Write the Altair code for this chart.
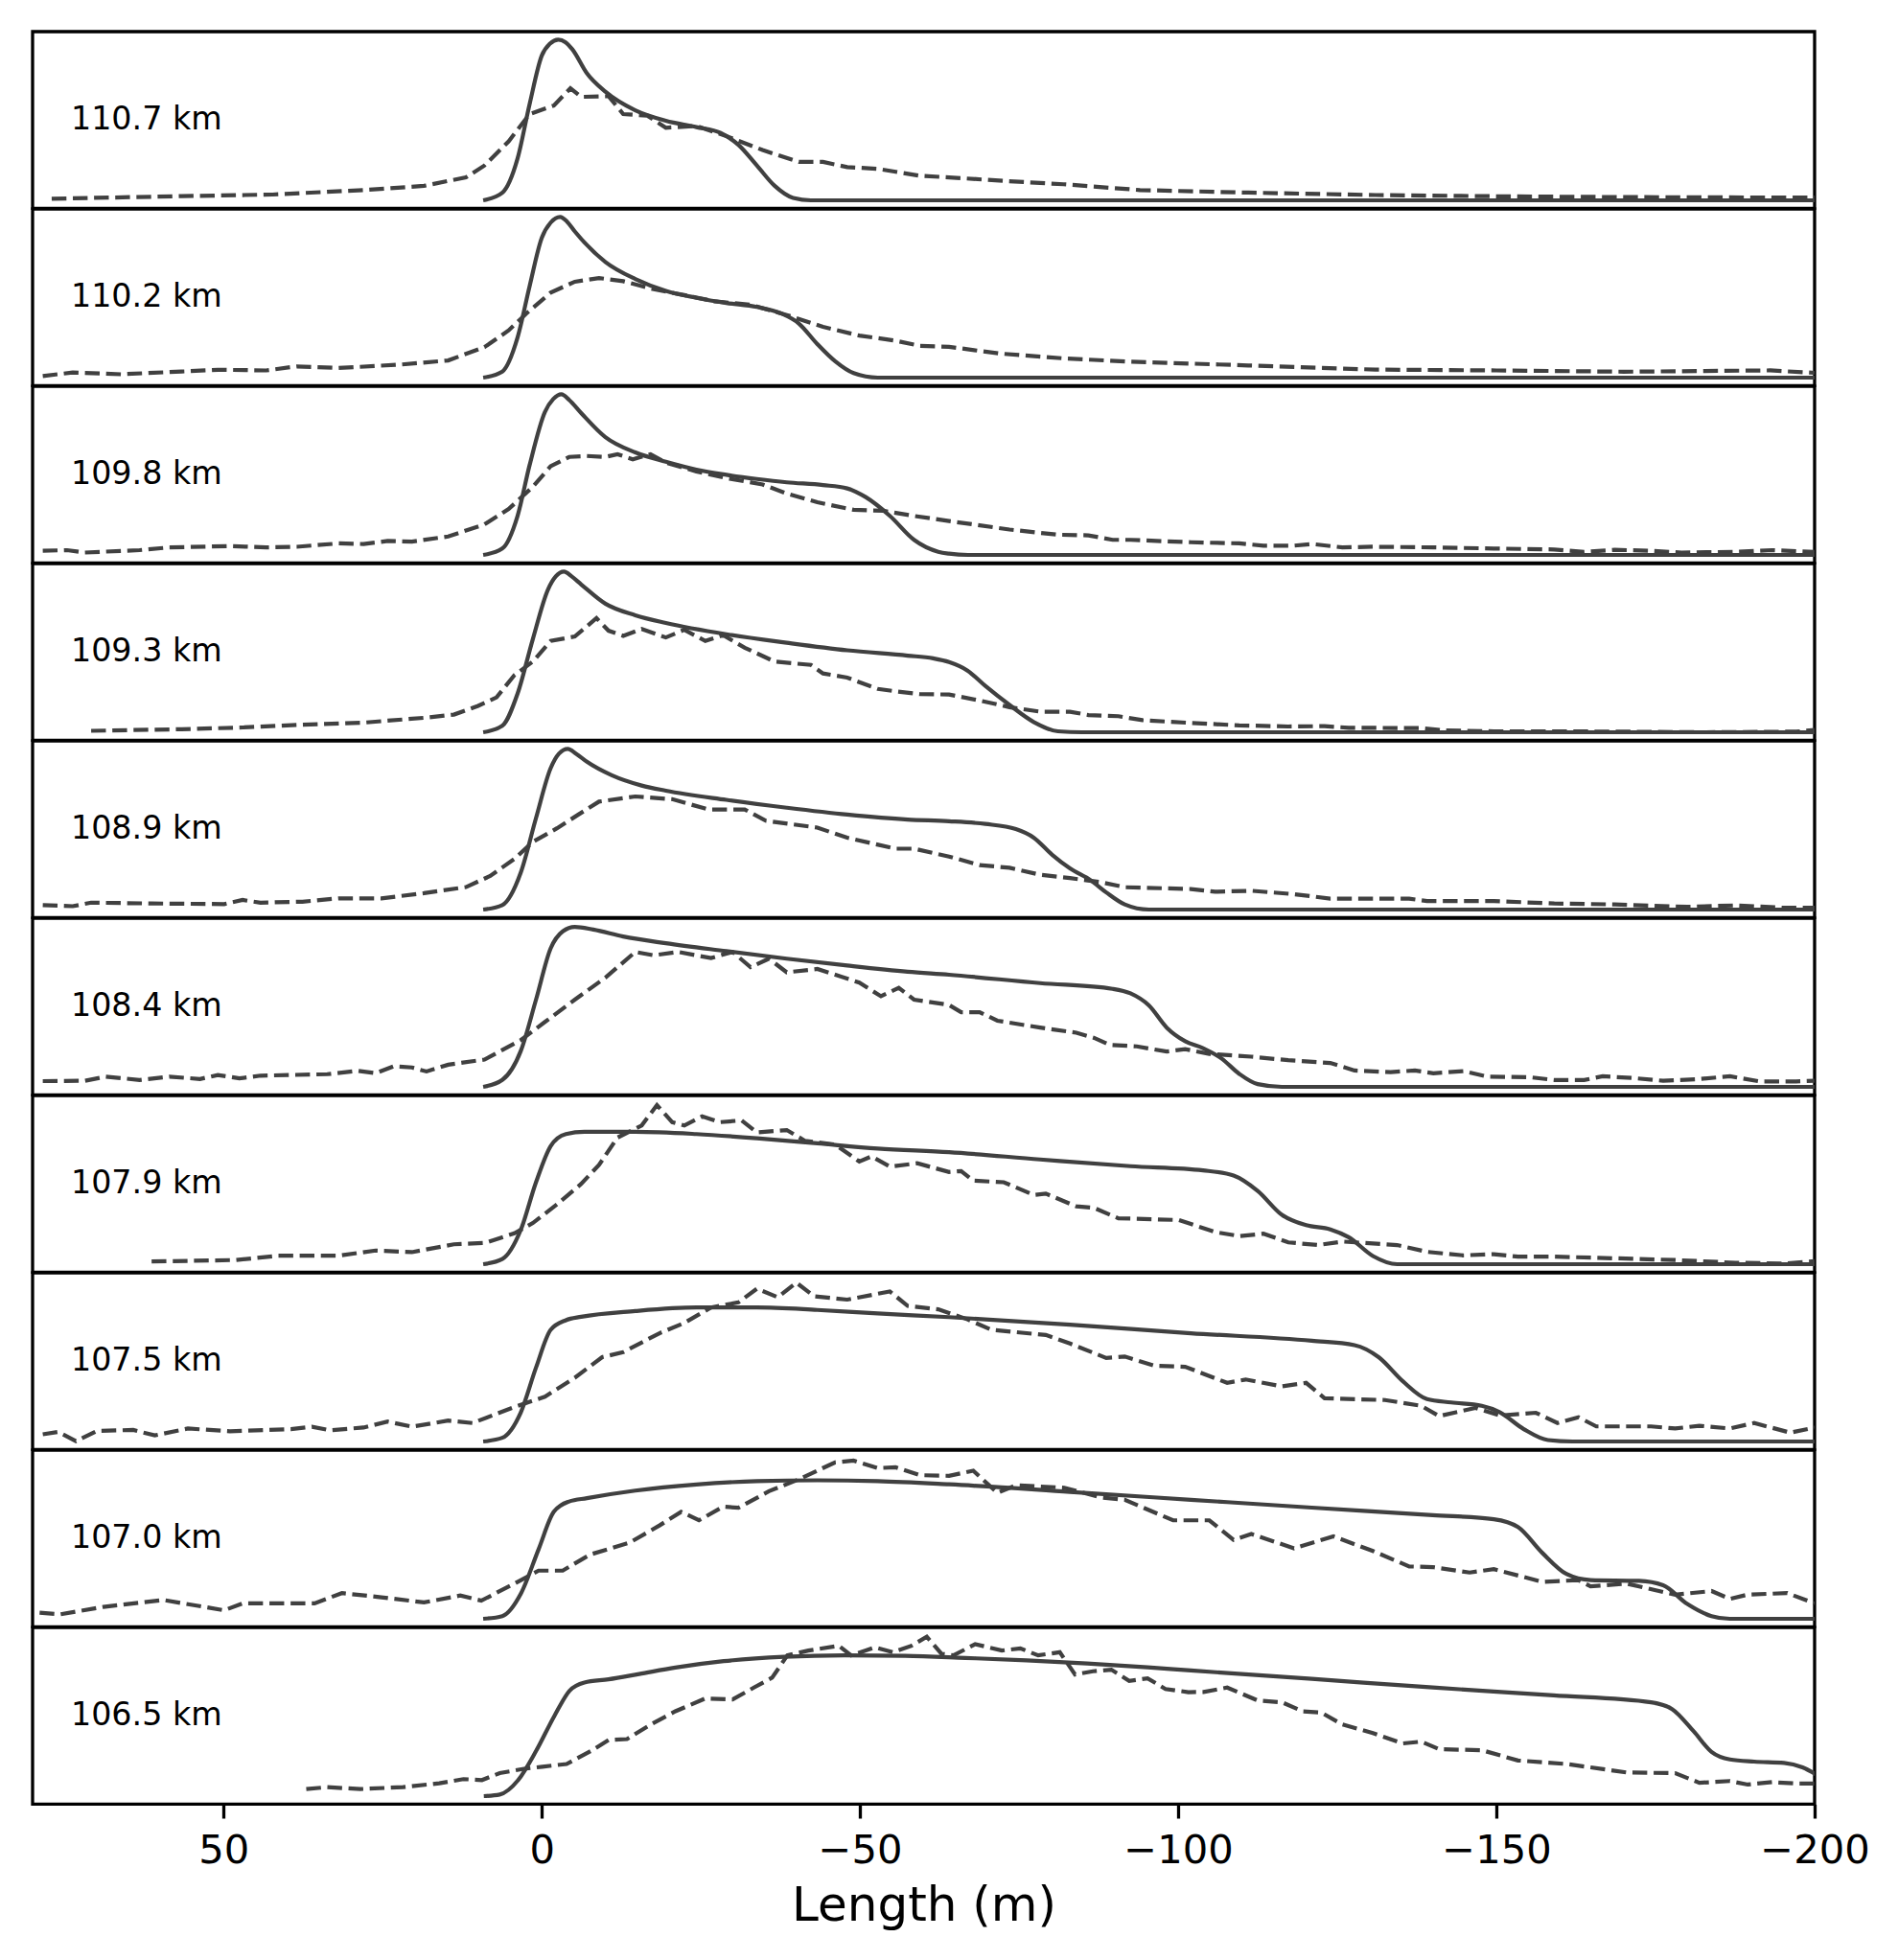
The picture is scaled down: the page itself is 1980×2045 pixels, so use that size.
import altair as alt
import pandas as pd

# ---------------- data (x = length in m, v = normalised intensity) ----------------
labels = ["110.7 km", "110.2 km", "109.8 km", "109.3 km", "108.9 km",
          "108.4 km", "107.9 km", "107.5 km", "107.0 km", "106.5 km"]

s_1107 = [(9.2,0),(6.2,0.047),(3.8,0.26),(1.9,0.6),(0,0.9),(-1.3,0.975),(-2.6,1.0),(-3.7,0.985),(-4.8,0.94),
          (-7.1,0.79),(-10,0.676),(-14.7,0.56),(-19.5,0.495),(-24.3,0.456),(-28.1,0.42),(-30.9,0.345),
          (-33.8,0.217),(-36.6,0.09),(-39.5,0.015),(-42.3,0),(-200,0)]
d_1107 = [(77,0.01),(56.6,0.026),(42.3,0.036),(28,0.064),(18.5,0.09),(11.9,0.143),(9,0.217),(5.2,0.367),
          (1.9,0.537),(-1.9,0.59),(-4.5,0.697),(-6.2,0.644),(-10.5,0.648),(-12.8,0.537),(-16.6,0.527),
          (-19.5,0.452),(-24.3,0.463),(-29,0.4),(-34.7,0.313),(-40.4,0.239),(-44.2,0.239),(-48,0.207),
          (-52.8,0.196),(-59.4,0.153),(-64,0.143),(-73,0.12),(-82,0.10),(-94,0.064),(-111,0.048),
          (-131,0.033),(-150.6,0.025),(-170,0.02),(-200,0.017)]

s_1102 = [(9.2,0),(6.2,0.038),(3.8,0.25),(1.9,0.57),(0,0.87),(-1.4,0.965),(-2.9,1.0),(-4.0,0.97),(-5.2,0.91),
          (-10,0.72),(-14.7,0.614),(-19.5,0.54),(-24.3,0.497),(-29,0.465),(-33.8,0.44),(-37.6,0.40),
          (-40.4,0.337),(-43.3,0.209),(-46.1,0.102),(-49,0.028),(-52.8,0),(-200,0)]
d_1102 = [(78.4,0.01),(73.7,0.032),(66.1,0.021),(56.6,0.038),(50.9,0.049),(43.3,0.045),(38.5,0.07),
          (31.9,0.06),(22.3,0.081),(14.7,0.107),(9,0.19),(5.2,0.294),(2.4,0.40),(-1.4,0.529),(-5.2,0.597),
          (-9,0.62),(-12.8,0.6),(-17.6,0.55),(-22.4,0.514),(-27.1,0.475),(-32.8,0.454),(-38.5,0.39),
          (-44.2,0.316),(-49.9,0.262),(-55.6,0.23),(-59.4,0.198),(-64,0.192),(-72,0.15),(-82,0.12),
          (-92,0.1),(-111,0.076),(-131,0.05),(-150,0.045),(-170,0.037),(-193,0.045),(-200,0.03)]

s_1098 = [(9.2,0),(6.2,0.04),(3.8,0.243),(1.9,0.56),(-0.5,0.89),(-1.8,0.97),(-3.1,1.0),(-4.3,0.965),
          (-6.2,0.883),(-10,0.733),(-14.7,0.638),(-19.5,0.58),(-24.3,0.531),(-29,0.499),(-33.8,0.473),
          (-38.5,0.452),(-44.2,0.435),(-48,0.414),(-50.9,0.36),(-54.7,0.243),(-58.5,0.094),(-62.3,0.02),
          (-64,0.008),(-67,0),(-200,0)]
d_1098 = [(78.4,0.026),(74.6,0.03),(71.8,0.015),(63.2,0.03),(58.5,0.047),(49,0.055),(43.3,0.047),
          (38.5,0.051),(31.9,0.072),(28,0.068),(24.2,0.087),(20.4,0.083),(14.7,0.115),(9,0.19),(5.2,0.286),
          (1.4,0.424),(-1.4,0.552),(-4.3,0.61),(-7.1,0.616),(-10,0.61),(-11.9,0.627),(-14.3,0.595),
          (-17.1,0.627),(-19.5,0.574),(-24.3,0.52),(-29,0.478),(-34.7,0.439),(-38.5,0.382),(-43.3,0.328),
          (-49,0.281),(-53.7,0.275),(-58.5,0.243),(-64,0.211),(-67.8,0.19),(-73.5,0.158),(-81.1,0.126),
          (-85.9,0.122),(-89.7,0.094),(-92.5,0.094),(-102,0.079),(-109.6,0.072),(-113.4,0.058),
          (-118.2,0.058),(-121.1,0.068),(-125.8,0.047),(-130.6,0.051),(-140.1,0.047),(-149.6,0.04),
          (-159.1,0.034),(-163.8,0.019),(-168.6,0.032),(-174.3,0.026),(-179.1,0.015),(-187.6,0.019),
          (-193.3,0.03),(-200,0.019)]

s_1093 = [(9.2,0),(6.2,0.04),(3.8,0.24),(1.4,0.58),(-1,0.89),(-2.2,0.97),(-3.5,1.0),(-4.7,0.97),(-6.2,0.92),
          (-10,0.8),(-14.7,0.728),(-19.5,0.68),(-29,0.61),(-38.5,0.557),(-48,0.51),(-57.5,0.477),(-61.5,0.46),
          (-64,0.437),(-66.9,0.384),(-69.7,0.288),(-73.5,0.17),(-77.3,0.064),(-81.1,0.006),(-84.9,0),(-200,0)]
d_1093 = [(70.8,0.009),(56.6,0.019),(47,0.03),(37.6,0.047),(28,0.06),(18.5,0.09),(13.8,0.11),(10,0.164),
          (7.1,0.217),(4.3,0.355),(1.4,0.44),(-1.4,0.568),(-5.2,0.596),(-8.6,0.71),(-10.5,0.632),
          (-12.8,0.6),(-15.7,0.643),(-19.5,0.59),(-22.4,0.638),(-25.7,0.568),(-28.5,0.604),(-31.9,0.526),
          (-36.6,0.44),(-42.3,0.419),(-44.2,0.366),(-48,0.34),(-52.8,0.27),(-55.6,0.255),(-59.4,0.238),
          (-64,0.235),(-68.8,0.198),(-73.5,0.156),(-78.3,0.128),(-83,0.128),(-85.9,0.107),(-90.6,0.1),
          (-94.4,0.075),(-102,0.058),(-109.6,0.043),(-117.3,0.036),(-123,0.038),(-126.8,0.028),
          (-138.2,0.026),(-142,0.011),(-149.6,0.006),(-159.1,0.006),(-168.6,0.004),(-182.9,0),
          (-197.1,0.004),(-200,0.015)]

s_1089 = [(9.2,0),(6.2,0.028),(3.3,0.23),(0.9,0.57),(-1.4,0.88),(-2.7,0.97),(-4.1,1.0),(-5.4,0.97),
          (-7.1,0.92),(-11,0.836),(-15.7,0.772),(-19.5,0.74),(-29,0.683),(-38.5,0.634),(-48,0.591),
          (-57.5,0.56),(-64,0.55),(-69.7,0.533),(-74.5,0.501),(-77.3,0.448),(-80.2,0.341),(-83,0.256),
          (-86.3,0.181),(-88.7,0.107),(-91.6,0.032),(-95.4,0),(-200,0)]
d_1089 = [(78.4,0.028),(73.7,0.021),(70.8,0.043),(61.3,0.038),(49.9,0.034),(47,0.06),(44.2,0.043),
          (37.6,0.049),(31.9,0.07),(25.2,0.07),(18.5,0.102),(11.9,0.14),(8.1,0.209),(4.3,0.315),(1.4,0.421),
          (-2.4,0.506),(-5.7,0.59),(-9,0.672),(-14.7,0.704),(-20.5,0.687),(-26.2,0.623),(-31.9,0.623),
          (-35.2,0.553),(-43.3,0.51),(-48,0.447),(-55.6,0.379),(-58.5,0.379),(-64,0.33),(-68.8,0.277),
          (-73.5,0.26),(-78.3,0.217),(-83,0.196),(-87.8,0.171),(-91.6,0.139),(-102,0.128),(-105.8,0.111),
          (-111.5,0.117),(-118.2,0.096),(-123.9,0.068),(-136.3,0.068),(-139.1,0.053),(-149.6,0.053),
          (-159.1,0.038),(-168.6,0.032),(-180,0.017),(-187.6,0.026),(-195.2,0.011),(-200,0.011)]

s_1084 = [(9.2,0),(6.2,0.043),(3.3,0.223),(0.9,0.543),(-1.4,0.862),(-3.3,0.968),(-5.2,0.996),(-8.1,0.979),
          (-12.8,0.936),(-19.5,0.894),(-29,0.845),(-38.5,0.798),(-48,0.755),(-57.5,0.717),(-64,0.698),
          (-78.3,0.646),(-89.7,0.61),(-92.5,0.582),(-95.4,0.507),(-98.2,0.369),(-101.1,0.284),
          (-103.9,0.241),(-106.8,0.177),(-109.6,0.081),(-112.5,0.017),(-116.3,0),(-200,0)]
d_1084 = [(78.4,0.036),(71.8,0.038),(68.5,0.064),(63.2,0.043),(58.5,0.064),(53.7,0.049),(50.9,0.074),
          (47.5,0.053),(44.2,0.07),(33.7,0.079),(29,0.1),(26.1,0.085),(23.3,0.128),(20.4,0.121),(18.1,0.096),
          (14.7,0.138),(9,0.17),(3.3,0.291),(-0.5,0.404),(-5.2,0.543),(-10,0.68),(-14.7,0.84),(-17.6,0.819),
          (-21.4,0.84),(-26.6,0.802),(-30,0.84),(-32.8,0.745),(-35.7,0.798),(-38.5,0.713),(-43.3,0.734),
          (-49.9,0.649),(-53.3,0.564),(-56.1,0.617),(-58.5,0.543),(-64,0.51),(-65.9,0.465),(-68.8,0.465),
          (-71.6,0.412),(-78.3,0.369),(-84,0.337),(-86.8,0.305),(-89.2,0.262),(-93.5,0.252),(-98.2,0.22),
          (-101.1,0.235),(-104.9,0.205),(-111.5,0.188),(-117.3,0.166),(-123.9,0.149),(-127.7,0.102),
          (-133.4,0.092),(-137.2,0.102),(-140.1,0.085),(-144.8,0.098),(-148.6,0.064),(-155.3,0.06),
          (-159.1,0.043),(-163.8,0.043),(-166.7,0.066),(-171.5,0.055),(-176.2,0.038),(-181.9,0.049),
          (-186.7,0.066),(-191.4,0.034),(-197.1,0.034),(-200,0.038)]

s_1079 = [(9.2,0),(6.2,0.032),(3.3,0.213),(0.9,0.51),(-1.4,0.735),(-3.8,0.81),(-6.7,0.824),(-14.7,0.824),
          (-24.3,0.81),(-33.8,0.784),(-43.3,0.752),(-52.8,0.72),(-64,0.697),(-78.3,0.652),(-92.5,0.61),
          (-103.9,0.584),(-108.7,0.552),(-112.5,0.456),(-116.3,0.307),(-120.1,0.243),(-123.9,0.217),
          (-126.8,0.168),(-130.6,0.051),(-134.4,0),(-200,0)]
d_1079 = [(61.3,0.017),(48,0.026),(41.4,0.053),(31.9,0.053),(26.1,0.085),(20.4,0.075),(13.8,0.124),
          (9,0.132),(4.3,0.192),(1.4,0.256),(-2.4,0.373),(-6.2,0.5),(-9,0.618),(-11.9,0.788),(-15.7,0.863),
          (-18.1,0.99),(-20.5,0.884),(-22.4,0.863),(-25.2,0.92),(-28,0.884),(-31.4,0.895),(-33.8,0.82),
          (-38.5,0.835),(-41.4,0.767),(-46.1,0.745),(-49.9,0.639),(-51.8,0.671),(-54.7,0.607),(-59,0.628),
          (-64,0.574),(-65.9,0.58),(-67.8,0.52),(-72.6,0.51),(-77.3,0.431),(-79.2,0.439),(-84,0.36),
          (-86.8,0.35),(-90.6,0.286),(-100.1,0.275),(-105.8,0.2),(-109.6,0.175),(-113.4,0.19),
          (-117.3,0.136),(-122,0.119),(-125.8,0.141),(-134.4,0.119),(-139.1,0.077),(-144.8,0.055),
          (-149.6,0.062),(-153.4,0.047),(-159.1,0.047),(-165.7,0.04),(-178.1,0.026),(-187.6,0.009),
          (-195.2,0.004),(-200,0.019)]

s_1075 = [(9.2,0),(6.2,0.023),(3.3,0.18),(0.9,0.46),(-1.4,0.695),(-3.8,0.755),(-6.2,0.776),(-14.7,0.812),
          (-24.3,0.834),(-33.8,0.834),(-43.3,0.819),(-52.8,0.797),(-64,0.774),(-83,0.727),(-102,0.674),
          (-121,0.627),(-127.7,0.6),(-131.5,0.525),(-135.3,0.375),(-139.1,0.264),(-142.9,0.243),
          (-147.7,0.222),(-150.5,0.183),(-154.3,0.077),(-158.1,0.009),(-162,0),(-200,0)]
d_1075 = [(78.4,0.045),(76,0.06),(73.2,0.002),(69.9,0.066),(64.2,0.072),(60.8,0.038),(55.6,0.081),
          (49,0.064),(39.4,0.077),(36.1,0.092),(33.3,0.07),(28,0.087),(24.2,0.124),(20.4,0.092),(14.7,0.13),
          (10.9,0.115),(4.3,0.215),(-0.5,0.279),(-5.2,0.397),(-9.5,0.525),(-12.8,0.556),(-18.5,0.674),
          (-22.4,0.738),(-26.6,0.834),(-30.9,0.866),(-33.8,0.951),(-37.1,0.898),(-40,0.989),(-42.8,0.904),
          (-48,0.883),(-54.7,0.934),(-57.5,0.844),(-62.3,0.823),(-64,0.8),(-66.9,0.76),(-70.7,0.695),
          (-79.2,0.663),(-83,0.61),(-88.7,0.52),(-91.6,0.529),(-96.3,0.471),(-101.1,0.465),(-107.7,0.365),
          (-110.6,0.386),(-116.3,0.343),(-120.1,0.365),(-123,0.269),(-132.5,0.258),(-138.2,0.222),
          (-141,0.158),(-146.7,0.209),(-150.5,0.162),(-156.2,0.179),(-159.6,0.115),(-162.9,0.151),
          (-165.7,0.094),(-174.3,0.094),(-178.1,0.081),(-181.9,0.098),(-186.7,0.081),(-190.5,0.115),
          (-196.2,0.055),(-200,0.087)]

s_1070 = [(9.2,0),(6.2,0.017),(3.3,0.155),(0.5,0.432),(-1.9,0.666),(-4.3,0.73),(-7.1,0.751),(-14.7,0.798),
          (-24.3,0.836),(-33.8,0.857),(-43.3,0.862),(-52.8,0.857),(-64,0.837),(-83,0.79),(-102,0.741),
          (-121,0.692),(-140,0.645),(-149.6,0.62),(-153.4,0.571),(-157.2,0.411),(-161,0.279),(-164.8,0.241),
          (-172.4,0.236),(-176.2,0.209),(-180,0.092),(-183.8,0.017),(-186.7,0),(-200,0)]
d_1070 = [(78.9,0.038),(75.6,0.028),(68.9,0.074),(59.4,0.117),(49.9,0.053),(47,0.096),(35.7,0.096),
          (31.4,0.16),(25.2,0.134),(18.5,0.102),(12.8,0.145),(9.5,0.113),(4.3,0.219),(0.5,0.3),(-3.3,0.3),
          (-7.6,0.4),(-13.8,0.474),(-18.5,0.581),(-21.9,0.666),(-24.7,0.613),(-28.5,0.698),(-30.9,0.691),
          (-35.7,0.794),(-40.4,0.868),(-46.1,0.974),(-49,0.985),(-52.8,0.938),(-55.6,0.943),(-59.4,0.894),
          (-64,0.89),(-67.8,0.922),(-71.6,0.784),(-74.5,0.831),(-82.1,0.816),(-87.8,0.756),(-91.6,0.741),
          (-99.2,0.613),(-104.9,0.613),(-108.7,0.492),(-111.5,0.528),(-118.2,0.439),(-124.4,0.513),
          (-130.6,0.422),(-136.3,0.326),(-140,0.322),(-145.8,0.288),(-149.6,0.309),(-157.2,0.23),
          (-162.9,0.241),(-164.8,0.202),(-170.5,0.219),(-178.1,0.15),(-183.8,0.173),(-186.7,0.124),
          (-189.5,0.151),(-195.7,0.16),(-200,0.096)]

s_1065 = [(9.1,0),(6.6,0.01),(3.7,0.1),(0.9,0.28),(-2,0.5),(-4.4,0.657),(-6.7,0.707),(-10.5,0.727),
          (-15.3,0.76),(-21,0.8),(-28.6,0.84),(-38.1,0.867),(-47.6,0.876),(-57.1,0.873),(-66.6,0.86),
          (-76.2,0.845),(-85.7,0.825),(-95.2,0.802),(-102,0.782),(-121,0.73),(-140,0.676),(-159,0.627),
          (-174.3,0.584),(-177.6,0.542),(-181,0.403),(-183.8,0.275),(-186.7,0.228),(-190.5,0.215),
          (-195.2,0.207),(-198.1,0.179),(-200.2,0.136)]
d_1065 = [(37,0.044),(33.7,0.056),(28.5,0.044),(21.8,0.056),(16.1,0.08),(12.3,0.106),(9.4,0.1),(6.6,0.143),
          (2.8,0.17),(-0.1,0.183),(-3.9,0.2),(-7.7,0.28),(-10.5,0.349),(-13.4,0.355),(-17.2,0.448),
          (-21,0.528),(-25.7,0.608),(-30,0.602),(-33.4,0.677),(-36.2,0.737),(-38.6,0.876),(-41.9,0.906),
          (-46.7,0.936),(-48.6,0.876),(-52.4,0.926),(-55.2,0.896),(-58.1,0.936),(-60.5,0.992),(-62.8,0.886),
          (-64.7,0.876),(-68.1,0.946),(-72.3,0.906),(-75.2,0.92),(-78,0.876),(-81.4,0.896),(-83.8,0.757),
          (-86.6,0.777),(-89.5,0.787),(-92.3,0.717),(-95.2,0.733),(-98,0.667),(-101.6,0.647),(-104,0.648),
          (-107.7,0.676),(-112.5,0.595),(-116.3,0.584),(-119.6,0.527),(-122.5,0.52),(-125.8,0.446),
          (-130.6,0.392),(-135.3,0.328),(-138.2,0.339),(-141,0.292),(-147.7,0.286),(-153.4,0.222),
          (-161,0.2),(-164.8,0.179),(-170.5,0.147),(-178.1,0.143),(-181.9,0.083),(-186.7,0.094),
          (-189.5,0.072),(-193.3,0.087),(-197.1,0.079),(-200,0.079)]

solid_series = [s_1107, s_1102, s_1098, s_1093, s_1089, s_1084, s_1079, s_1075, s_1070, s_1065]
dashed_series = [d_1107, d_1102, d_1098, d_1093, d_1089, d_1084, d_1079, d_1075, d_1070, d_1065]
x_ticks = [50, 0, -50, -100, -150, -200]

# ---------------- styling ----------------
LINE = "#404040"
FONT = "DejaVu Sans"
W, H = 1859, 184.4

xscale = alt.Scale(domain=[-200, 80], reverse=True, nice=False, zero=False)
yscale = alt.Scale(domain=[-0.05, 1.05], nice=False, zero=False)

panels = []
n = len(labels)
for i, (lab, s, d) in enumerate(zip(labels, solid_series, dashed_series)):
    last = i == n - 1
    if last:
        xaxis = alt.Axis(values=x_ticks, title="Length (m)", grid=False, domain=False,
                         ticks=True, tickSize=14.6, tickWidth=3.3, tickColor="black",
                         labelFont=FONT, labelFontSize=41.7, labelColor="black", labelPadding=13,
                         labelFlush=False, labelOverlap=False,
                         titleFont=FONT, titleFontSize=50, titleFontWeight="normal",
                         titleColor="black", titlePadding=12)
    else:
        xaxis = None
    sdf = pd.DataFrame(s, columns=["x", "v"])
    ddf = pd.DataFrame(d, columns=["x", "v"])
    solid = alt.Chart(sdf).mark_line(color=LINE, strokeWidth=4.2, interpolate="monotone",
                                     clip=True).encode(
        x=alt.X("x:Q", scale=xscale, axis=xaxis),
        y=alt.Y("v:Q", scale=yscale, axis=None))
    dashed = alt.Chart(ddf).mark_line(color=LINE, strokeWidth=4.2, strokeDash=[15.4, 6.7],
                                      clip=True).encode(
        x=alt.X("x:Q", scale=xscale, axis=xaxis),
        y=alt.Y("v:Q", scale=yscale, axis=None))
    text = alt.Chart(pd.DataFrame({"t": [lab]})).mark_text(
        font=FONT, fontSize=33.3, color="black", align="left", baseline="alphabetic").encode(
        x=alt.value(40), y=alt.value(102), text="t:N")
    panels.append(alt.layer(dashed, solid, text).properties(width=W, height=H))

chart = alt.vconcat(*panels, spacing=0, bounds="flush").properties(
    padding={"top": 23, "left": 24, "right": 20, "bottom": 2}
).configure(background="white").configure_view(stroke="black", strokeWidth=3.3)

chart.save("out.html", embed_options={"renderer": "svg", "actions": False})
